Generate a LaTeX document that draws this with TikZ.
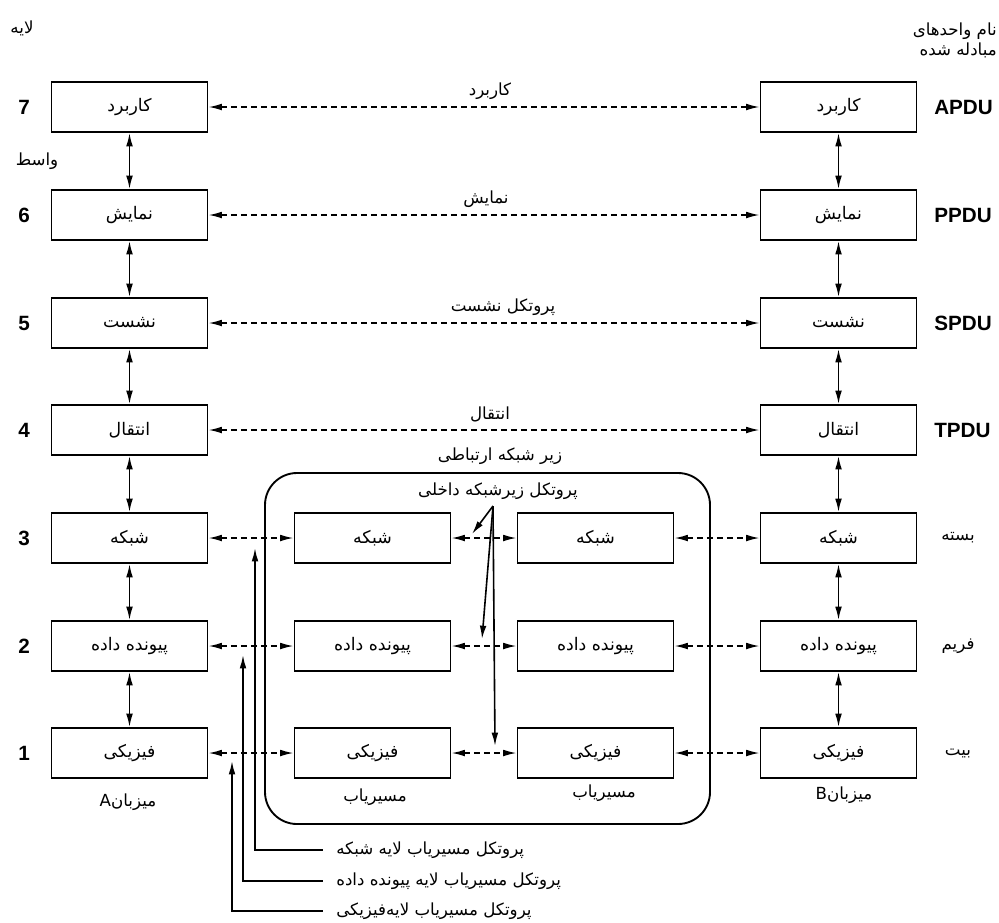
\documentclass[tikz,border=0pt]{standalone}
\usepackage{fontspec}
\setmainfont{DejaVu Sans}
\newfontfamily\fa[Script=Arabic]{DejaVu Sans}
\newfontfamily\lat{Liberation Sans}
\TeXXeTstate=1
\usetikzlibrary{arrows.meta}
\newcommand{\rl}[1]{\beginR #1\endR}
\begin{document}
\begin{tikzpicture}[x=0.75pt,y=-0.75pt,
  box/.style={draw, line width=1.4pt, minimum width=117pt, minimum height=37.5pt, inner sep=0pt, font=\fa\fontsize{13}{15}\selectfont},
  lbl/.style={font=\fa\fontsize{12.5}{14}\selectfont, inner sep=0pt},
  num/.style={font=\lat\bfseries\fontsize{15.5}{17}\selectfont, inner sep=0pt},
  tip/.style={-{Latex[length=10pt,width=5pt]}},
  dtip/.style={{Latex[length=10pt,width=5pt]}-{Latex[length=10pt,width=5pt]}},
  sl/.style={line width=1.2pt},
  dl/.style={dtip, line width=1.2pt, dash pattern=on 4.5pt off 3pt},
]
\useasboundingbox (0,0) rectangle (999,922);
\clip (0,0) rectangle (999,922);

% host A
\node[box] (A7) at (129.5,107) {\rl{کاربرد}};
\node[box] (A6) at (129.5,215) {\rl{نمایش}};
\node[box] (A5) at (129.5,323) {\rl{نشست}};
\node[box] (A4) at (129.5,430) {\rl{انتقال}};
\node[box] (A3) at (129.5,538) {\rl{شبکه}};
\node[box] (A2) at (129.5,646) {\rl{پیونده داده}};
\node[box] (A1) at (129.5,753) {\rl{فیزیکی}};
% host B
\node[box] (B7) at (838.5,107) {\rl{کاربرد}};
\node[box] (B6) at (838.5,215) {\rl{نمایش}};
\node[box] (B5) at (838.5,323) {\rl{نشست}};
\node[box] (B4) at (838.5,430) {\rl{انتقال}};
\node[box] (B3) at (838.5,538) {\rl{شبکه}};
\node[box] (B2) at (838.5,646) {\rl{پیونده داده}};
\node[box] (B1) at (838.5,753) {\rl{فیزیکی}};
% routers
\node[box] (R3) at (372.5,538) {\rl{شبکه}};
\node[box] (R2) at (372.5,646) {\rl{پیونده داده}};
\node[box] (R1) at (372.5,753) {\rl{فیزیکی}};
\node[box] (S3) at (595.5,538) {\rl{شبکه}};
\node[box] (S2) at (595.5,646) {\rl{پیونده داده}};
\node[box] (S1) at (595.5,753) {\rl{فیزیکی}};

% subnet frame
\draw[line width=1.4pt, rounded corners=24pt] (265,473) rectangle (710,824);

% vertical arrows in hosts
\foreach \a/\b in {7/6,6/5,5/4,4/3,3/2,2/1}{
  \draw[sl,dtip] (A\a) -- (A\b);
  \draw[sl,dtip] (B\a) -- (B\b);
}
% peer protocols
\draw[dl] (A7) -- (B7);
\draw[dl] (A6) -- (B6);
\draw[dl] (A5) -- (B5);
\draw[dl] (A4) -- (B4);
\foreach \i in {3,2,1}{
  \draw[dl] (A\i) -- (R\i);
  \draw[dl] (R\i) -- (S\i);
  \draw[dl] (S\i) -- (B\i);
}
% labels on peer lines
\node[lbl] (l7) at (490,91) {\rl{کاربرد}};
\node[lbl] (l6) at (486,199) {\rl{نمایش}};
\node[lbl] (l5) at (503,307) {\rl{پروتکل نشست}};
\node[lbl] (l4) at (490,414) {\rl{انتقال}};
\node[lbl] (sub) at (500,456) {\rl{زیر شبکه ارتباطی}};
\node[lbl] (isp) at (498,491) {\rl{پروتکل زیرشبکه داخلی}};

% inner subnet protocol arrows
\coordinate (apex) at (493,506);
\coordinate (t3) at (472,534);
\coordinate (t2) at (482,639);
\coordinate (t1) at (495,746);
\draw[sl,tip] (apex) -- (t3);
\draw[sl,tip] (apex) -- (t2);
\draw[sl,tip] (apex) -- (t1);

% router protocol labels
\node[lbl,anchor=west] (p3) at (336,850) {\rl{پروتکل مسیریاب لایه شبکه}};
\node[lbl,anchor=west] (p2) at (336,881) {\rl{پروتکل مسیریاب لایه پیونده داده}};
\node[lbl,anchor=west] (p1) at (336,911) {\rl{پروتکل مسیریاب لایه‌فیزیکی}};
\coordinate (v3) at (255,548);
\coordinate (v2) at (243,655);
\coordinate (v1) at (232,761);
\draw[sl,tip,shorten <=10pt] (p3.west) -| (v3);
\draw[sl,tip,shorten <=10pt] (p2.west) -| (v2);
\draw[sl,tip,shorten <=10pt] (p1.west) -| (v1);

% left labels
\node[lbl] (layer) at (22,28) {\rl{لایه}};
\node[lbl] (iface) at (37,161) {\rl{واسط}};
\foreach \n/\y in {7/107,6/215,5/323,4/430,3/538,2/646,1/753}{
  \node[num] (n\n) at (24,\y) {\n};
}
\node[lbl] (hA) at (128,802) {\rl{میزبان\beginL A\endL}};
\node[lbl] (hB) at (844,795) {\rl{میزبان\beginL B\endL}};
\node[lbl] (rA) at (375,797) {\rl{مسیریاب}};
\node[lbl] (rB) at (604,793) {\rl{مسیریاب}};

% right labels
\node[lbl,anchor=east] (u1) at (997,31) {\rl{نام واحدهای}};
\node[lbl,anchor=east] (u2) at (997,50) {\rl{مبادله شده}};
\node[num,anchor=west] (apdu) at (934,107) {APDU};
\node[num,anchor=west] (ppdu) at (934,215) {PPDU};
\node[num,anchor=west] (spdu) at (934,323) {SPDU};
\node[num,anchor=west] (tpdu) at (934,430) {TPDU};
\node[lbl] (pkt) at (958,538) {\rl{بسته}};
\node[lbl] (frm) at (958,646) {\rl{فریم}};
\node[lbl] (bit) at (958,753) {\rl{بیت}};
\end{tikzpicture}
\end{document}
